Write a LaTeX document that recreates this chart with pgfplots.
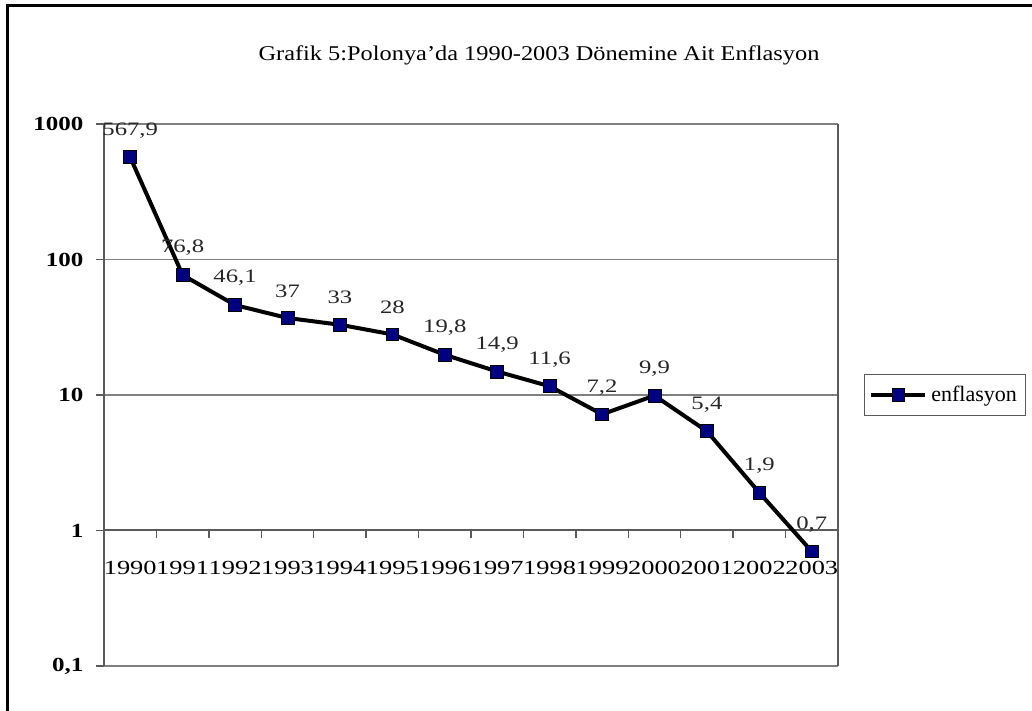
\documentclass[border=0pt]{standalone}
\usepackage{fontspec}
\setmainfont{Liberation Serif}
\usepackage{pgfplots}
\usepackage{pgfplotstable}
\pgfplotsset{compat=1.18}

\definecolor{navymark}{RGB}{0,0,128}
\definecolor{gridgray}{RGB}{128,128,128}
\definecolor{axgray}{RGB}{90,90,90}

\pgfplotstableread{
x y lab
0 567.9 567,9
1 76.8 76,8
2 46.1 46,1
3 37 37
4 33 33
5 28 28
6 19.8 19,8
7 14.9 14,9
8 11.6 11,6
9 7.2 7,2
10 9.9 9,9
11 5.4 5,4
12 1.9 1,9
13 0.7 0,7
}\infl

\begin{document}
\begin{tikzpicture}
\begin{axis}[
  at={(0pt,0pt)}, anchor=south west,
  scale only axis, width=367pt, height=271pt,
  ymode=log, ymin=0.1, ymax=1000,
  xmin=-0.5, xmax=13.5,
  axis x line*=middle, axis y line*=box,
  axis line style={draw=axgray, line width=1pt},
  ytick={0.1,1,10,100,1000},
  yticklabels={{0,1},1,10,100,1000},
  ytick pos=left,
  ymajorgrids, grid style={gridgray, line width=0.75pt},
  yminorticks=false,
  y tick style={draw=axgray, line width=0.75pt},
  major tick length=4pt,
  tick align=outside,
  y tick label style={font=\fontsize{10}{12}\selectfont\bfseries, xscale=1.25, xshift=-1.5pt},
  xtick={0,...,13},
  xticklabels={1990,1991,1992,1993,1994,1995,1996,1997,1998,1999,2000,2001,2002,2003},
  x tick style={draw=none},
  minor xtick={-0.5,0.5,...,13.5},
  minor x tick style={draw=axgray, line width=0.75pt},
  minor tick length=4pt,
  x tick label style={font=\fontsize{10}{12}\selectfont, xscale=1.32, yshift=-8pt},
  legend style={at={(1.035,0.5)}, anchor=west, draw=axgray, line width=0.6pt,
    font=\fontsize{11}{12}\selectfont, inner xsep=2.5pt, inner ysep=3.5pt},
  legend image code/.code={%
    \draw[#1, mark repeat=2, mark phase=2] plot coordinates {(0pt,0pt) (13.5pt,0pt) (27pt,0pt)};},
  clip=false,
]
\addplot[black, line width=2pt, mark=square*,
  mark options={fill=navymark, draw=black, line width=0.4pt}, mark size=3.2pt,
  point meta=explicit symbolic,
  nodes near coords,
  nodes near coords style={anchor=center, yshift=13.5pt, xscale=1.3,
    font=\fontsize{9.5}{11}\selectfont, text=black!85}]
  table[x=x, y=y, meta=lab] {\infl};
\legend{enflasyon}
\end{axis}
\node[font=\fontsize{10.5}{12}\selectfont, xscale=1.16] at (217.5pt,305.5pt)
  {Grafik 5:Polonya'da 1990-2003 Dönemine Ait Enflasyon};
\draw[line width=1.5pt] (-48.25pt,-22.5pt) -- (-48.25pt,330pt) -- (464pt,330pt);
\pgfresetboundingbox
\path[use as bounding box] (-52pt,-22.5pt) rectangle (464pt,333pt);
\end{tikzpicture}
\end{document}
